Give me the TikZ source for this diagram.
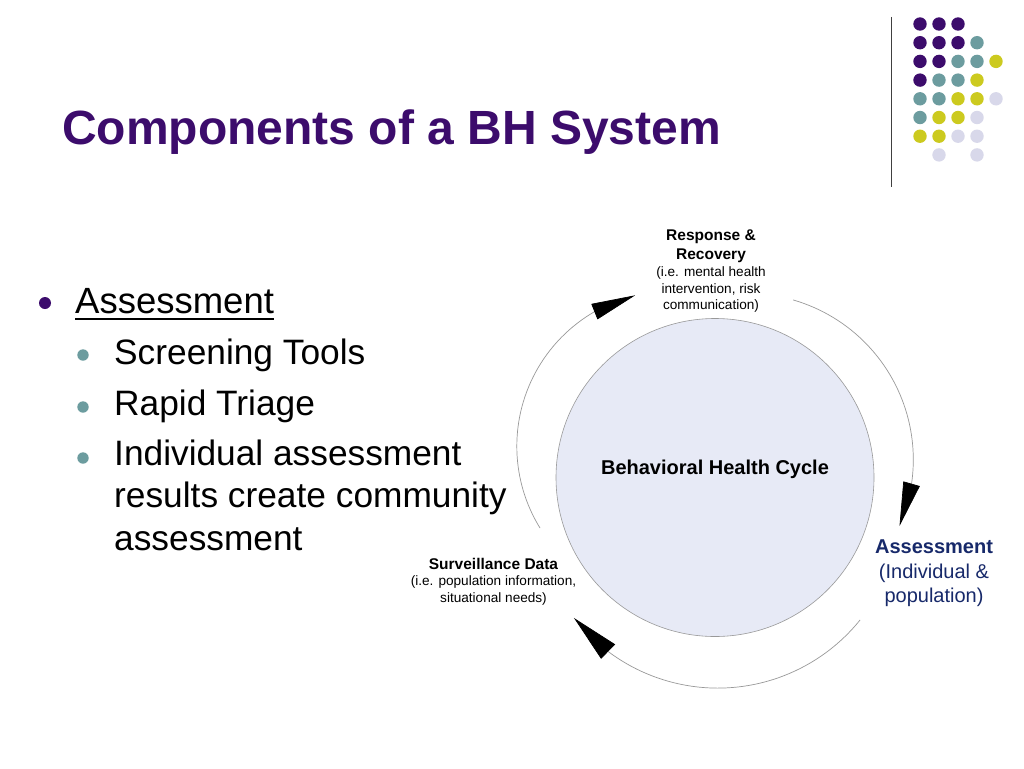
\documentclass[tikz,border=0pt]{standalone}
\usepackage{fontspec}
\setmainfont{Liberation Sans}
\usetikzlibrary{arrows.meta, bending, positioning, calc}
\definecolor{mPurple}{HTML}{3C0C6C}
\definecolor{mTeal}{HTML}{6C9C9F}
\definecolor{mYellow}{HTML}{CCCA1F}
\definecolor{mLilac}{HTML}{D8D8EA}
\definecolor{mNavy}{HTML}{17296A}
\definecolor{hubFill}{HTML}{E7EAF6}

\begin{document}
\begin{tikzpicture}[x=1pt, y=-1pt,
    hub/.style={circle, draw=black!40, line width=0.6pt, fill=hubFill, minimum size=318pt,
      inner sep=0pt, text depth=19.6pt, font=\bfseries\fontsize{20}{24}\selectfont},
    cyc/.style={draw=black!40, line width=0.7pt},
    ttl/.style={align=center, inner sep=0pt, font=\bfseries\fontsize{15.5}{18.6}\selectfont},
    note/.style={align=center, inner sep=0pt, font=\fontsize{13.6}{16.7}\selectfont},
    lvlA/.style={inner sep=0pt, anchor=base west, font=\fontsize{36.5}{44}\selectfont},
    lvlB/.style={inner sep=0pt, anchor=base west, font=\fontsize{35.3}{42.5}\selectfont}]
  \path[use as bounding box, fill=white] (0,0) rectangle (1024,768);
  % title and corner dots
  \node[anchor=base west, inner sep=0pt, text=mPurple, font=\bfseries\fontsize{48}{56}\selectfont]
    (title) at (62,144) {Components of a BH System};
  \draw[black!75, line width=1.2pt] (891.5,17) -- (891.5,187);
  \foreach \c/\r in {1/1,2/1,3/1,1/2,2/2,3/2,1/3,2/3,1/4}
    \fill[mPurple] (901+19*\c, 5.3+18.7*\r) circle[radius=6.7];
  \foreach \c/\r in {4/2,3/3,4/3,2/4,3/4,1/5,2/5,1/6}
    \fill[mTeal] (901+19*\c, 5.3+18.7*\r) circle[radius=6.7];
  \foreach \c/\r in {5/3,4/4,3/5,4/5,2/6,3/6,1/7,2/7}
    \fill[mYellow] (901+19*\c, 5.3+18.7*\r) circle[radius=6.7];
  \foreach \c/\r in {5/5,4/6,3/7,4/7,2/8,4/8}
    \fill[mLilac] (901+19*\c, 5.3+18.7*\r) circle[radius=6.7];
  % bullets
  \fill[mPurple] (45,303) circle[radius=6];
  \foreach \y in {355,407,458} \fill[mTeal] (83,\y) circle[radius=5.7];
  \node[lvlA] (asm) at (75,313) {Assessment};
  \draw[line width=1.8pt] ([yshift=-6pt]asm.base west) -- ([yshift=-6pt]asm.base east);
  \node[lvlB] (scr) at (114,364) {Screening Tools};
  \node[lvlB] (tri) at (114,415) {Rapid Triage};
  \node[lvlB, anchor=north west, align=left] (ind) at (114,439.6)
    {Individual assessment\\results create community\\assessment};
  % cycle
  \node[hub] (bhc) at (715,477.5) {Behavioral Health Cycle};
  \coordinate (cA) at (672.3,446.3);
  \coordinate (cB) at (747,459.7);
  \coordinate (cC) at (717.8,505.5);
  \draw[cyc, -{Triangle[length=44pt, width=16.5pt, color=black, flex]}]
    ($(cA)+(148.3:155.5)$) arc[start angle=148.3, end angle=256.2, radius=155.5];
  \draw[cyc, -{Triangle[length=44pt, width=17pt, color=black, flex]}]
    ($(cB)+(-73.9:166.3)$) arc[start angle=-73.9, end angle=23.5, radius=166.3];
  \draw[cyc, -{Triangle[length=48pt, width=20pt, color=black, flex]}]
    ($(cC)+(38.8:182.6)$) arc[start angle=38.8, end angle=142, radius=182.6];
  % labels
  \node[ttl, anchor=north] (resp) at (711,230) {Response \&\\Recovery};
  \node[note, below=3.5pt of resp] (respnote) {(i.e. mental health\\intervention, risk\\communication)};
  \node[ttl, anchor=north] (surv) at (493.5,558) {Surveillance Data};
  \node[note, below=6pt of surv] (survnote) {(i.e. population information,\\situational needs)};
  \node[ttl, anchor=north, text=mNavy, font=\bfseries\fontsize{20}{24}\selectfont] (asmt) at (934,540) {Assessment};
  \node[note, below=9pt of asmt, text=mNavy, font=\fontsize{20}{24}\selectfont] (asmtnote) {(Individual \&\\population)};
\end{tikzpicture}
\end{document}
